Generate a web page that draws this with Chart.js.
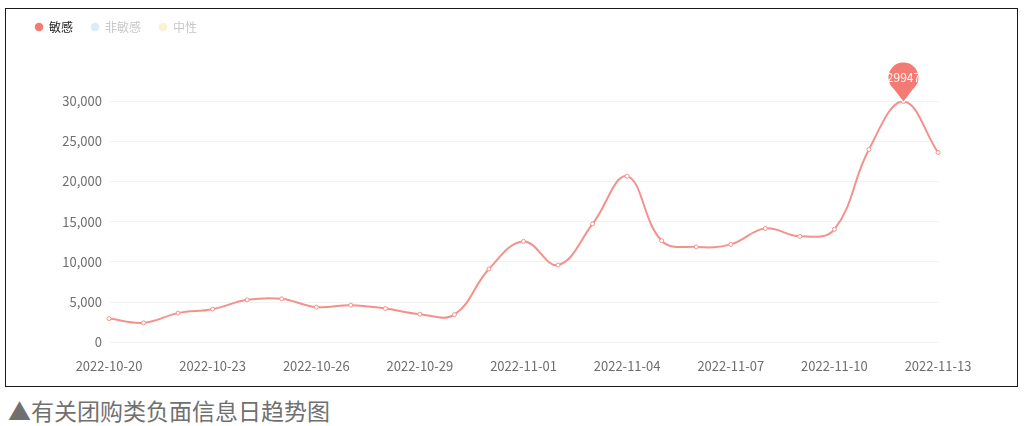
<!DOCTYPE html>
<html>
<head>
<meta charset="utf-8">
<script src="https://cdn.jsdelivr.net/npm/chart.js@4/dist/chart.umd.min.js"></script>
<style>
  body { margin: 0; background: #fff; width: 1027px; height: 426px; overflow: hidden; position: relative; }
  .frame { position: absolute; left: 5px; top: 8px; width: 1011px; height: 377px; border: 1.5px solid #1a1a1a; }
  .wrap { position: absolute; left: 0; top: 0; width: 1027px; height: 390px; }
  .caption { position: absolute; left: 8px; top: 395px; font-family: "Noto Sans CJK SC", sans-serif; font-size: 23px; color: #707070; line-height: 30px; white-space: nowrap; }
</style>
</head>
<body>
<div class="frame"></div>
<div class="wrap"><canvas id="trendChart" width="1027" height="390"></canvas></div>
<div class="caption">▲有关团购类负面信息日趋势图</div>
<script>
const dates = [
  '2022-10-20', '2022-10-21', '2022-10-22', '2022-10-23', '2022-10-24', '2022-10-25',
  '2022-10-26', '2022-10-27', '2022-10-28', '2022-10-29', '2022-10-30', '2022-10-31',
  '2022-11-01', '2022-11-02', '2022-11-03', '2022-11-04', '2022-11-05', '2022-11-06',
  '2022-11-07', '2022-11-08', '2022-11-09', '2022-11-10', '2022-11-11', '2022-11-12',
  '2022-11-13'
];
const sensitive = [
  2960, 2430, 3640, 4130, 5290, 5420, 4380, 4630, 4210, 3510, 3450, 9120,
  12550, 9610, 14720, 20650, 12640, 11860, 12180, 14170, 13180, 14050, 23970, 29947,
  23600
];
const nonSensitive = [];
const neutral = [];
const seriesNames = ['敏感', '非敏感', '中性'];
const yTicks = [0, 5000, 10000, 15000, 20000, 25000, 30000];

const lineColor = '#f3928c';
const pinColor = '#f47a74';
const legendColors = ['#f47a74', '#d9edfa', '#fdf1d2'];
const legendText = ['#222222', '#c8c8c8', '#c8c8c8'];
const tickFont = { family: '"Noto Sans CJK SC", sans-serif', size: 13 };
const legendFont = { family: '"Noto Sans CJK SC", sans-serif', size: 12 };

// pin balloon over the max point, like echarts markPoint
const maxPin = {
  id: 'maxPin',
  afterDatasetsDraw(chart) {
    const meta = chart.getDatasetMeta(0);
    const vals = chart.data.datasets[0].data;
    let idx = 0;
    vals.forEach((v, i) => { if (v > vals[idx]) idx = i; });
    const pt = meta.data[idx];
    const ctx = chart.ctx;
    const r = 15, d = 24;
    const cx = pt.x, cy = pt.y - d;
    const a = Math.asin(r / d);
    ctx.save();
    ctx.fillStyle = pinColor;
    ctx.beginPath();
    ctx.moveTo(pt.x, pt.y);
    ctx.arc(cx, cy, r, Math.PI / 2 + a, Math.PI / 2 - a + 2 * Math.PI);
    ctx.closePath();
    ctx.fill();
    ctx.fillStyle = '#fff';
    ctx.font = '12px "Noto Sans CJK SC", sans-serif';
    ctx.textAlign = 'center';
    ctx.textBaseline = 'middle';
    ctx.fillText(String(vals[idx]), cx, cy);
    ctx.restore();
  }
};

// extra room under the legend
const legendGap = {
  id: 'legendGap',
  beforeInit(chart) {
    const fit = chart.legend.fit;
    chart.legend.fit = function () {
      fit.bind(chart.legend)();
      this.height += 58;
    };
  }
};

new Chart(document.getElementById('trendChart'), {
  type: 'line',
  data: {
    labels: dates,
    datasets: [
      {
        label: seriesNames[0],
        data: sensitive,
        borderColor: lineColor,
        backgroundColor: '#fff',
        borderWidth: 2,
        tension: 0.4,
        pointRadius: 2,
        pointBorderWidth: 1,
        pointBorderColor: lineColor,
        pointBackgroundColor: '#fff',
        fill: false
      },
      { label: seriesNames[1], data: nonSensitive, borderColor: legendColors[1] },
      { label: seriesNames[2], data: neutral, borderColor: legendColors[2] }
    ]
  },
  options: {
    responsive: false,
    animation: false,
    devicePixelRatio: 1,
    layout: { padding: { left: 17, right: 89, top: 3, bottom: 0 } },
    scales: {
      x: {
        grid: { display: false, drawTicks: false },
        border: { display: false },
        ticks: {
          autoSkip: false,
          maxRotation: 0,
          padding: 16,
          color: '#6e6e6e',
          font: tickFont,
          callback: function (val, i) { return i % 3 === 0 ? dates[i] : null; }
        }
      },
      y: {
        min: 0,
        max: 30000,
        afterFit(s) { s.width = 92; },
        afterBuildTicks(s) { s.ticks = yTicks.map(v => ({ value: v })); },
        grid: { color: '#f2f2f2', drawTicks: false },
        border: { display: false },
        ticks: {
          padding: 7,
          color: '#6e6e6e',
          font: tickFont,
          callback: v => v.toLocaleString('en-US')
        }
      }
    },
    plugins: {
      legend: {
        display: true,
        position: 'top',
        align: 'start',
        labels: {
          usePointStyle: true,
          boxWidth: 8,
          boxHeight: 6,
          padding: 18,
          font: legendFont,
          generateLabels: chart => chart.data.datasets.map((ds, i) => ({
            text: ds.label,
            fillStyle: legendColors[i],
            strokeStyle: legendColors[i],
            lineWidth: 0,
            pointStyle: 'circle',
            hidden: false,
            fontColor: legendText[i],
            datasetIndex: i
          }))
        }
      },
      tooltip: { enabled: false }
    }
  },
  plugins: [maxPin, legendGap]
});
</script>
</body>
</html>
